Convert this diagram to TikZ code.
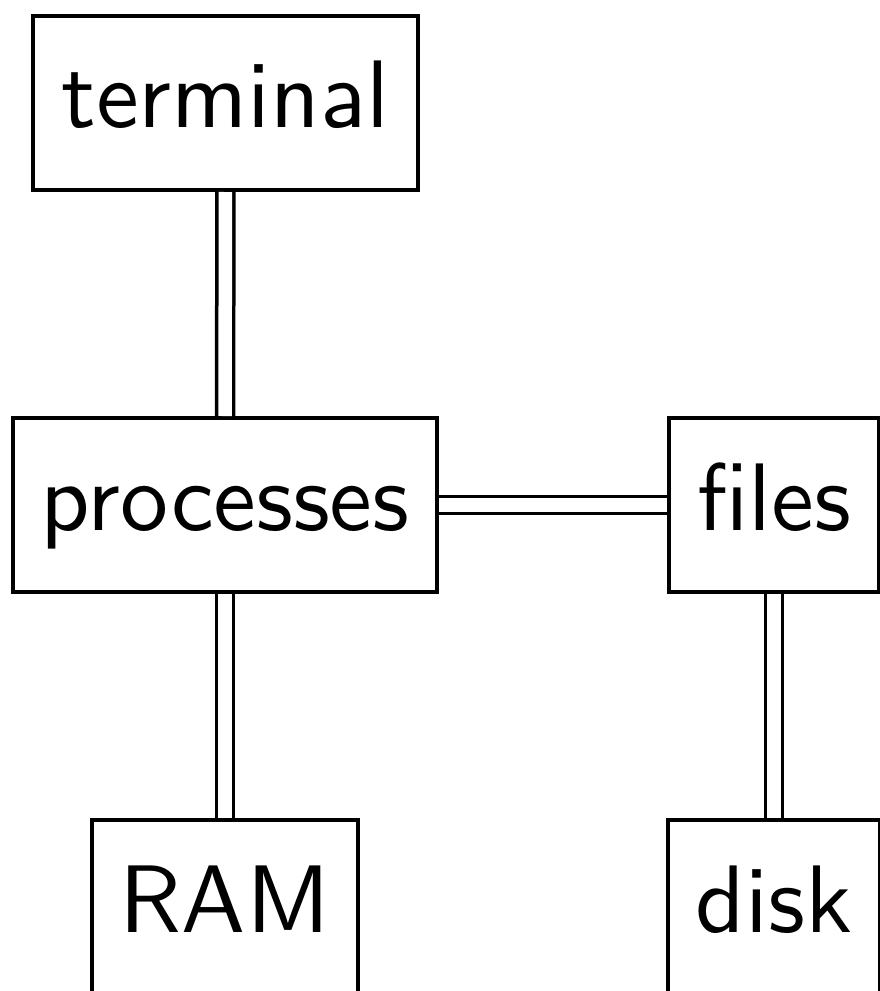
\documentclass[tikz,border=0pt]{standalone}
\usepackage{tikz}
\begin{document}
\begin{tikzpicture}[x=1pt,y=1pt,
        box/.style={draw, line width=0.4pt, inner xsep=2.8pt, inner ysep=3pt,
            text height=8.2pt, text depth=3.2pt, font=\fontsize{9.6}{11}\sffamily},
        link/.style={double, line width=0.35pt, double distance=1.35pt}]
        \useasboundingbox (0,0) rectangle (88,-99.1);
        \node[box] (terminal) at (22.55,-10.3) {terminal};
        \node[box] (processes) at (22.5,-50.5) {processes};
        \node[box] (files) at (77.4,-50.5) {files};
        \node[box] (ram) at (22.5,-90.7) {RAM};
        \node[box] (disk) at (77.4,-90.7) {disk};

        \draw[link] (terminal) -- (processes);
        \draw[link] (processes) -- (files);
        \draw[link] (processes) -- (ram);
        \draw[link] (files) -- (disk);
    \end{tikzpicture}
\end{document}
